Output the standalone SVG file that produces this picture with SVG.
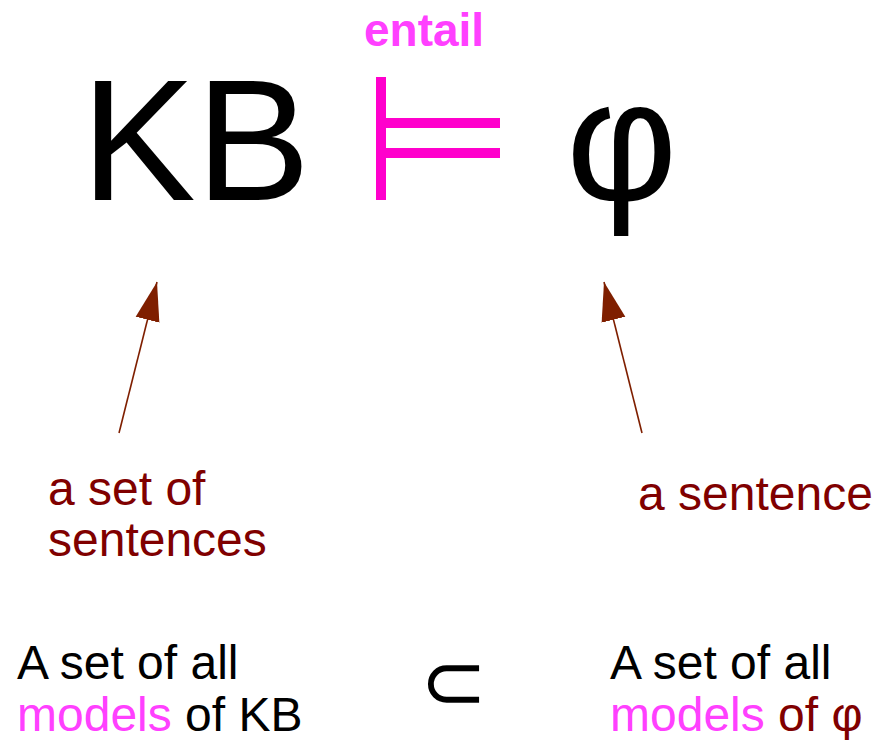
<svg xmlns="http://www.w3.org/2000/svg" width="873" height="740" viewBox="0 0 873 740">
<style>
text{font-family:"Liberation Sans",Arial,sans-serif}
.lbl{font-size:48px;fill:#800000}
.blk{font-size:48px;fill:#000}
.mag{fill:#ff40ff}
.dr{fill:#800000}
.big{font-size:172px;fill:#000}
.conn{stroke:#7f1f00;stroke-width:1.6;fill:none}
</style>
<defs>
<marker id="ah" markerUnits="userSpaceOnUse" markerWidth="40" markerHeight="26" refX="35" refY="11" orient="auto" viewBox="0 0 36 22">
<polygon points="0,0 35,11 0,22" fill="#7f1f00"/>
</marker>
</defs>
<rect width="873" height="740" fill="#fff"/>
<g id="kb"><text class="big" x="81" y="200">KB</text></g>
<g id="entail">
<text x="364" y="46" font-size="46" font-weight="bold" class="mag">entail</text>
<rect x="376" y="77" width="10" height="123" fill="#ff00cc"/>
<rect x="386" y="118" width="114" height="10" fill="#ff00cc"/>
<rect x="386" y="148" width="114" height="10" fill="#ff00cc"/>
</g>
<g id="phi"><text class="big" x="566" y="200">φ</text></g>
<g id="connectors">
<line class="conn" x1="119" y1="433" x2="157" y2="282" marker-end="url(#ah)"/>
<line class="conn" x1="642" y1="433" x2="604" y2="282" marker-end="url(#ah)"/>
</g>
<g id="set-of-sentences"><text class="lbl" x="48" y="505">a set of</text><text class="lbl" x="48" y="556">sentences</text></g>
<g id="a-sentence"><text class="lbl" x="638" y="510">a sentence</text></g>
<g id="models-kb"><text class="blk" x="17" y="679">A set of all</text><text class="blk" x="17" y="731"><tspan class="mag">models</tspan> of KB</text></g>
<g id="subset"><text x="420" y="709" font-size="80" font-family="DejaVu Sans,sans-serif">⊂</text></g>
<g id="models-phi"><text class="blk" x="610" y="679">A set of all</text><text class="blk" x="610" y="731"><tspan class="mag">models</tspan><tspan class="dr"> of φ</tspan></text></g>
</svg>
